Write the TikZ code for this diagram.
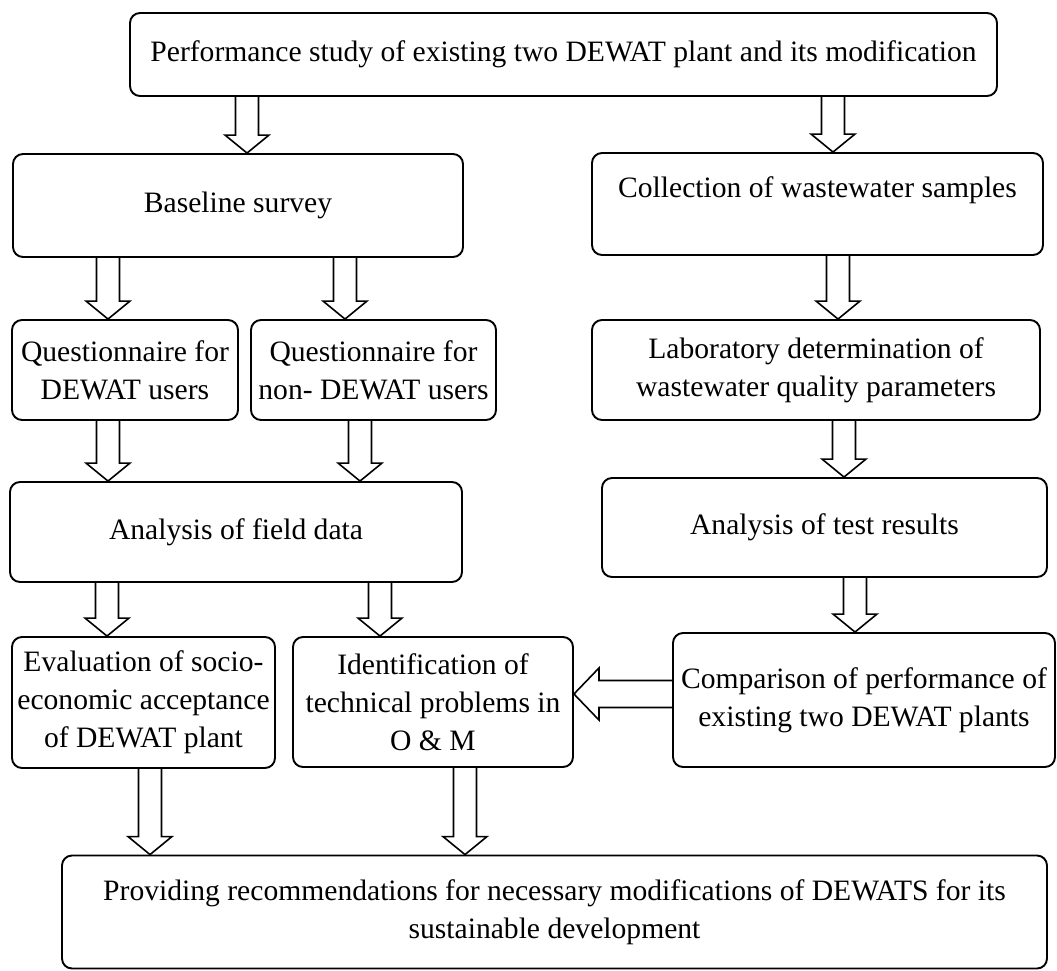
\documentclass[tikz,border=0pt]{standalone}
\usepackage{fontspec}
\setmainfont{Liberation Serif}
\usetikzlibrary{calc}
\tikzset{
  box/.style={draw, line width=1.9pt, rounded corners=10pt, align=center,
    inner sep=0pt, font=\fontsize{29.6}{38}\selectfont},
  blk/.style={draw, line width=1.6pt, line join=miter},
}
% vertical hollow block arrow: #1 x position, #2 source node, #3 target node
\newcommand{\blkdown}[3]{%
  \path (#1,0) coordinate (tmpx);
  \draw[blk] let \p1=(#2.south -| tmpx), \p2=(#3.north -| tmpx) in
    ({\x1-11.5pt},\y1) -- ({\x1-11.5pt},{\y2+18pt}) -- ({\x1-22pt},{\y2+18pt})
    -- (\x1,\y2) -- ({\x1+22pt},{\y2+18pt}) -- ({\x1+11.5pt},{\y2+18pt})
    -- ({\x1+11.5pt},\y1);}
% horizontal hollow block arrow pointing left: #1 y position, #2 source, #3 target
\newcommand{\blkleft}[3]{%
  \path (0,#1) coordinate (tmpy);
  \draw[blk] let \p1=(#2.west |- tmpy), \p2=(#3.east |- tmpy) in
    (\x1,{\y1+13.5pt}) -- ({\x2+25pt},{\y1+13.5pt}) -- ({\x2+25pt},{\y1+26pt})
    -- (\x2,\y1) -- ({\x2+25pt},{\y1-26pt}) -- ({\x2+25pt},{\y1-13.5pt})
    -- (\x1,{\y1-13.5pt});}
\begin{document}
\begin{tikzpicture}[x=1pt,y=-1pt]
\fill[white] (0,0) rectangle (1057,970);
\useasboundingbox (0,0) rectangle (1057,970);

\node[box, minimum width=867pt, minimum height=83pt] (top) at (563.5,54.5)
  {Performance study of existing two DEWAT plant and its modification};
\node[box, minimum width=450pt, minimum height=103pt] (base) at (238,205.5)
  {Baseline survey};
\node[box, minimum width=451pt, minimum height=102pt] (coll) at (817.5,204)
  {Collection of wastewater samples\\[-4pt] \mbox{}};
\node[box, minimum width=226pt, minimum height=100pt] (q1) at (125,370)
  {Questionnaire for\\DEWAT users};
\node[box, minimum width=245pt, minimum height=100pt] (q2) at (373.5,370)
  {Questionnaire for\\non- DEWAT users};
\node[box, minimum width=448pt, minimum height=100pt] (lab) at (816,370)
  {Laboratory determination of\\wastewater quality parameters};
\node[box, minimum width=452pt, minimum height=100pt] (afd) at (236,532)
  {Analysis of field data};
\node[box, minimum width=445pt, minimum height=99pt] (atr) at (824.5,527.5)
  {Analysis of test results};
\node[box, minimum width=263pt, minimum height=131pt] (eval) at (143.5,702.5)
  {Evaluation of socio-\\economic acceptance\\of DEWAT plant};
\node[box, minimum width=280pt, minimum height=130pt] (ident) at (433,702)
  {Identification of\\technical problems in\\O \& M};
\node[box, minimum width=382pt, minimum height=134pt] (comp) at (864,700)
  {Comparison of performance of\\existing two DEWAT plants};
\node[box, minimum width=985pt, minimum height=113pt] (rec) at (554.5,912)
  {Providing recommendations for necessary modifications of DEWATS for its\\sustainable development};

\blkdown{247}{top}{base}
\blkdown{833}{top}{coll}
\blkdown{108}{base}{q1}
\blkdown{345}{base}{q2}
\blkdown{838}{coll}{lab}
\blkdown{108}{q1}{afd}
\blkdown{360}{q2}{afd}
\blkdown{844}{lab}{atr}
\blkdown{107}{afd}{eval}
\blkdown{380}{afd}{ident}
\blkdown{855}{atr}{comp}
\blkdown{150}{eval}{rec}
\blkdown{465}{ident}{rec}
\blkleft{694}{comp}{ident}
\end{tikzpicture}
\end{document}
